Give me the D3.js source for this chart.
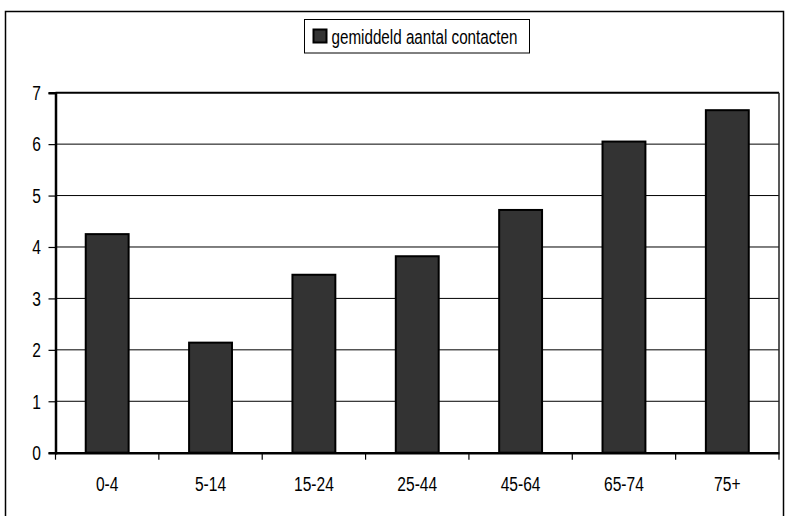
<!DOCTYPE html>
<html>
<head>
<meta charset="utf-8">
<script src="https://cdn.jsdelivr.net/npm/d3@7"></script>
<style>
  html, body { margin: 0; padding: 0; background: #fff; }
  svg { display: block; }
  text { font-family: "Liberation Sans", Arial, sans-serif; fill: #000; }
</style>
</head>
<body>
<svg id="chart" width="790" height="516"></svg>
<script>
const categories = ["0-4", "5-14", "15-24", "25-44", "45-64", "65-74", "75+"];
const values = [4.25, 2.14, 3.46, 3.82, 4.72, 6.05, 6.66];
const yTicks = [0, 1, 2, 3, 4, 5, 6, 7];
const seriesName = "gemiddeld aantal contacten";

const svg = d3.select("#chart");
const plot = { left: 55.5, right: 779, top: 92.7, bottom: 452.7 };
const FS = 20.5, SX = 0.76;

function label(parent, px, py, str, anchor, fs) {
  const g = parent.append("g").attr("transform", `translate(${px},${py}) scale(${SX},1)`);
  return g.append("text").attr("x", 0).attr("y", 0)
    .attr("text-anchor", anchor).attr("font-size", fs || FS).text(str);
}

// outer frame
svg.append("rect")
  .attr("x", 5.5).attr("y", 11.5)
  .attr("width", 778).attr("height", 520)
  .attr("fill", "none").attr("stroke", "#000").attr("stroke-width", 1.5);

const x = d3.scaleBand()
  .domain(categories)
  .range([plot.left, plot.right])
  .paddingInner(0.585)
  .paddingOuter(0.2925);

const y = d3.scaleLinear()
  .domain([0, 7])
  .range([plot.bottom, plot.top]);

// gridlines
svg.append("g")
  .selectAll("line")
  .data(yTicks.filter(t => t > 0 && t < 7))
  .join("line")
  .attr("x1", plot.left).attr("x2", plot.right)
  .attr("y1", d => y(d)).attr("y2", d => y(d))
  .attr("stroke", "#000").attr("stroke-width", 1);

// plot area border (top & right)
svg.append("line")
  .attr("x1", plot.left).attr("x2", plot.right)
  .attr("y1", y(7)).attr("y2", y(7))
  .attr("stroke", "#000").attr("stroke-width", 2);
svg.append("line")
  .attr("x1", plot.right).attr("x2", plot.right)
  .attr("y1", plot.top).attr("y2", plot.bottom)
  .attr("stroke", "#222").attr("stroke-width", 1.5);

// bars
svg.append("g")
  .selectAll("rect")
  .data(categories.map((c, i) => ({ c, v: values[i] })))
  .join("rect")
  .attr("x", d => x(d.c))
  .attr("y", d => y(d.v))
  .attr("width", x.bandwidth())
  .attr("height", d => y(0) - y(d.v))
  .attr("fill", "#333333")
  .attr("stroke", "#000")
  .attr("stroke-width", 2);

// y axis (lines & ticks via d3 axis, labels drawn condensed)
const gy = svg.append("g")
  .attr("transform", `translate(${plot.left},0)`)
  .call(d3.axisLeft(y).tickValues(yTicks).tickSize(7).tickFormat(""));
gy.select(".domain").attr("stroke", "#000").attr("stroke-width", 2.5);
gy.selectAll(".tick line").attr("stroke", "#000").attr("stroke-width", 1.2);
const yl = svg.append("g");
yTicks.forEach(t => label(yl, 41, y(t) + 7.3, d3.format("d")(t), "end"));

// x axis
const gx = svg.append("g")
  .attr("transform", `translate(0,${plot.bottom})`)
  .call(d3.axisBottom(x).tickSize(0).tickFormat(""));
gx.select(".domain").attr("stroke", "#000").attr("stroke-width", 2.5);
const xl = svg.append("g");
categories.forEach(c => label(xl, x(c) + x.bandwidth() / 2, 491, c, "middle"));

// x tick marks at category boundaries
svg.append("g")
  .selectAll("line")
  .data(d3.range(categories.length + 1))
  .join("line")
  .attr("x1", i => plot.left + i * x.step())
  .attr("x2", i => plot.left + i * x.step())
  .attr("y1", plot.bottom)
  .attr("y2", plot.bottom + 7)
  .attr("stroke", "#000").attr("stroke-width", 1.2);

// legend
const lg = svg.append("g");
lg.append("rect")
  .attr("x", 304.5).attr("y", 19.5)
  .attr("width", 225).attr("height", 33.5)
  .attr("fill", "#fff").attr("stroke", "#000").attr("stroke-width", 1);
lg.append("rect")
  .attr("x", 313.5).attr("y", 29.5)
  .attr("width", 13).attr("height", 13)
  .attr("fill", "#333333").attr("stroke", "#000").attr("stroke-width", 2);
lg.append("text")
  .attr("x", 331.5).attr("y", 43.5)
  .attr("font-size", FS)
  .attr("textLength", 186)
  .attr("lengthAdjust", "spacingAndGlyphs")
  .text(seriesName);
</script>
</body>
</html>
